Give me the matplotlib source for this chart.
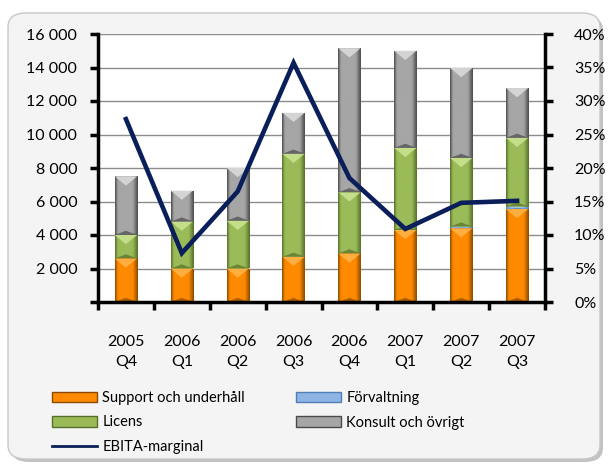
import numpy as np
import matplotlib
matplotlib.use('Agg')
import matplotlib.pyplot as plt
from matplotlib.colors import LinearSegmentedColormap
from matplotlib.patches import FancyBboxPatch, Polygon, Patch
from matplotlib.lines import Line2D
from matplotlib.ticker import FuncFormatter, PercentFormatter, FixedLocator

plt.rcParams['font.family'] = ['Lato', 'DejaVu Sans']

quarters = ['2005\nQ4', '2006\nQ1', '2006\nQ2', '2006\nQ3', '2006\nQ4', '2007\nQ1', '2007\nQ2', '2007\nQ3']
support = [2600, 2000, 2000, 2700, 2900, 4300, 4400, 5550]
forvaltning = [0, 0, 0, 0, 0, 0, 100, 150]
licens = [1400, 2800, 2850, 6150, 3650, 4900, 4100, 4100]
konsult = [3500, 1850, 3150, 2450, 8600, 5800, 5370, 2970]
ebita = [0.273, 0.073, 0.165, 0.357, 0.185, 0.109, 0.148, 0.151]

# (base, light, dark) per series
styles = {
    'Support och underhåll': ('#FF8A00', '#FFB347', '#8A4A00'),
    'Förvaltning': ('#8EB4E3', '#C6DBF3', '#4F7FB8'),
    'Licens': ('#9BBB59', '#C9E28F', '#55702A'),
    'Konsult och övrigt': ('#A6A6A6', '#DADADA', '#4A4A4A'),
}

W, H = 608, 466
fig = plt.figure(figsize=(W / 100, H / 100), dpi=100)
fig.patch.set_facecolor('white')

# outer rounded frame with shadow
shadow = FancyBboxPatch((11 / W, 4 / H), 592 / W, 446 / H, boxstyle='round,pad=0,rounding_size=0.03',
                        transform=fig.transFigure, facecolor='#9A9A9A', edgecolor='none', alpha=0.6, zorder=0)
frame = FancyBboxPatch((8 / W, 7 / H), 592 / W, 446 / H, boxstyle='round,pad=0,rounding_size=0.03',
                       transform=fig.transFigure, facecolor='#F4F4F4', edgecolor='#C8C8C8', lw=1, zorder=0.5)
fig.patches.extend([shadow, frame])

ax = fig.add_axes([98 / W, 1 - 302 / H, (545 - 98) / W, (302 - 34) / H])
ax.set_facecolor('white')
ax.set_zorder(1)

x = np.arange(len(quarters))
width = 0.4
grad = np.linspace(0, 1, 64).reshape(1, -1)


def shade(bars, base, light, dark):
    # bevelled look: dark sides, light top triangle, dark bottom
    cmap = LinearSegmentedColormap.from_list('s', [(0, dark), (0.12, base), (0.78, base), (1, dark)])
    for b in bars:
        x0, y0, w, h = b.get_x(), b.get_y(), b.get_width(), b.get_height()
        if h <= 0:
            continue
        im = ax.imshow(grad, cmap=cmap, extent=[x0, x0 + w, y0, y0 + h], aspect='auto',
                       interpolation='bicubic', zorder=2.1)
        im.set_clip_path(b)
        d = min(h / 2, 550)
        ax.add_patch(Polygon([(x0, y0 + h), (x0 + w, y0 + h), (x0 + w / 2, y0 + h - d)],
                             closed=True, facecolor=light, edgecolor='none', alpha=0.9, zorder=2.2))
        ax.add_patch(Polygon([(x0, y0), (x0 + w, y0), (x0 + w / 2, y0 + min(h / 2, 250))],
                             closed=True, facecolor=dark, edgecolor='none', alpha=0.7, zorder=2.2))


bottom = np.zeros(len(x))
for name, vals in [('Support och underhåll', support), ('Förvaltning', forvaltning),
                   ('Licens', licens), ('Konsult och övrigt', konsult)]:
    base, light, dark = styles[name]
    bars = ax.bar(x, vals, width, bottom=bottom, color=base, zorder=2)
    shade(bars, base, light, dark)
    bottom += np.array(vals)

ax.set_xlim(-0.5, len(x) - 0.5)
ax.set_ylim(0, 16000)
ax.set_yticks(np.arange(0, 16001, 2000))
ax.yaxis.set_major_formatter(FuncFormatter(lambda v, p: '' if v == 0 else f'{int(v):,}'.replace(',', ' ')))
ax.grid(axis='y', color='#8C8C8C', lw=1)
ax.set_axisbelow(True)

ax.set_xticks(x)
ax.set_xticklabels(quarters, linespacing=1.6)
ax.xaxis.set_minor_locator(FixedLocator(np.arange(-0.5, len(x), 1)))
ax.tick_params(axis='x', which='major', length=0, pad=23.5, labelsize=11.5)
ax.tick_params(axis='x', which='minor', length=6, width=2.5, color='black')
ax.tick_params(axis='y', length=6, width=2.5, pad=9, labelsize=11.5)

for s in ['top', 'right']:
    ax.spines[s].set_visible(False)
for s in ['left', 'bottom']:
    ax.spines[s].set_linewidth(2.5)

ax2 = ax.twinx()
ax2.plot(x, ebita, color='#0A1E5A', lw=3.3, solid_joinstyle='miter', zorder=5)
ax2.set_ylim(0, 0.4)
ax2.set_yticks(np.arange(0, 0.41, 0.05))
ax2.yaxis.set_major_formatter(PercentFormatter(1.0, decimals=0))
ax2.tick_params(axis='y', length=6, width=2.5, pad=15, labelsize=11.5)
ax2.spines['right'].set_linewidth(2.5)
for s in ['top', 'left', 'bottom']:
    ax2.spines[s].set_visible(False)

handles = [
    Patch(facecolor=styles['Support och underhåll'][0], edgecolor=styles['Support och underhåll'][2], label='Support och underhåll'),
    Patch(facecolor=styles['Licens'][0], edgecolor=styles['Licens'][2], label='Licens'),
    Line2D([0], [0], color='#0A1E5A', lw=2, label='EBITA-marginal'),
    Patch(facecolor=styles['Förvaltning'][0], edgecolor=styles['Förvaltning'][2], label='Förvaltning'),
    Patch(facecolor=styles['Konsult och övrigt'][0], edgecolor=styles['Konsult och övrigt'][2], label='Konsult och övrigt'),
]
fig.legend(handles=handles, ncol=2, loc='upper left', bbox_to_anchor=(52 / W, 1 - 391 / H),
           frameon=False, fontsize=10.5, handlelength=3.1, handleheight=0.7, handletextpad=0.35,
           labelspacing=0.72, columnspacing=3.5, borderaxespad=0, borderpad=0)

fig.savefig('out.png', dpi=100)
